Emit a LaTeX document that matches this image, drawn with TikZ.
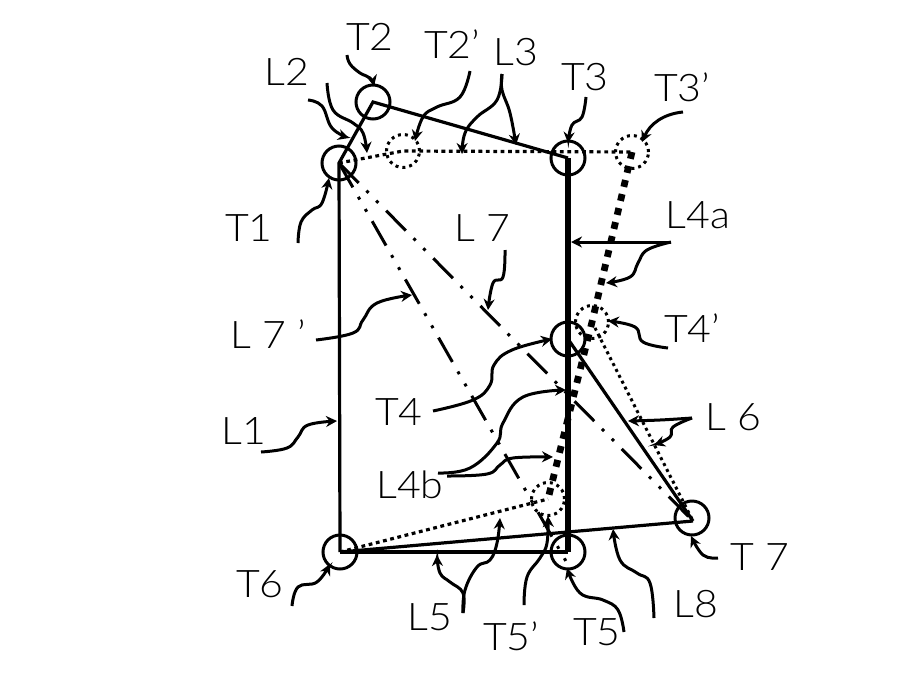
\documentclass[tikz,border=0pt]{standalone}
\usepackage{fontspec}
\setmainfont{Lato}[UprightFont=* Light,FakeStretch=1.08]
\usetikzlibrary{arrows.meta}
\tikzset{
  x=1pt,y=-1pt,
  ring/.style={circle,draw,line width=3pt,minimum size=34pt,inner sep=0pt},
  dring/.style={circle,draw,line width=3pt,minimum size=33pt,inner sep=0pt,dash pattern=on 3pt off 4pt},
  lab/.style={font=\fontsize{38}{40}\selectfont,inner sep=0pt},
  solidline/.style={line width=3.2pt,line join=miter},
  heavyline/.style={line width=6.8pt},
  dotline/.style={line width=3.2pt,dash pattern=on 3.8pt off 3.6pt},
  fineDot/.style={line width=3pt,dash pattern=on 3pt off 3.6pt},
  heavyDot/.style={line width=6.8pt,dash pattern=on 7pt off 7.4pt},
  chain/.style={line width=3pt,dash pattern=on 28pt off 11pt on 3pt off 11pt on 3pt off 11pt},
  lead/.style={line width=3pt,-{Stealth[length=11pt,width=11pt]}}
}
\begin{document}
\begin{tikzpicture}
\useasboundingbox (0,0) rectangle (921,673);
% terminals
\node[ring]  (T1) at (339,163) {};
\node[ring]  (T2) at (373,102) {};
\node[ring]  (T3) at (568,158) {};
\node[ring]  (T4) at (568,339) {};
\node[ring]  (T5) at (568,552) {};
\node[ring]  (T6) at (340,552) {};
\node[ring]  (T7) at (692,518) {};
\node[dring] (T2p) at (403,151) {};
\node[dring] (T3p) at (632,152) {};
\node[dring] (T4p) at (592,322) {};
\node[dring] (T5p) at (548,499) {};
\coordinate (T7e) at (693,521);
\coordinate (L7pe) at (567,563);
% links
\draw[solidline] (T6.center) -- (T1.center) -- (T2.center) -- (T3.center);
\draw[solidline] (T6.center) -- (T5.center);
\draw[solidline] (T6.center) -- (T7e);
\draw[solidline] (T4.center) -- (T7e);
\draw[heavyline] (T3.center) -- (T5.center);
\draw[dotline] (T1.center) -- (T2p.center) -- (T3p.center);
\draw[dotline] (T6.center) -- (T5p.center);
\draw[fineDot] (T4p.center) -- (T7e);
\draw[heavyDot] (T3p.center) -- (T4p.center) -- (T5p.center);
\draw[chain] (T1.center) -- (T7e);
\draw[chain] (T1.center) -- (L7pe);
% labels
\node[lab] (lT2)  at (370,37)  {T2};
\node[lab] (lT2p) at (452,44)  {T2'};
\node[lab] (lL3)  at (516,52)  {L3};
\node[lab] (lL2)  at (287,72)  {L2};
\node[lab] (lT3)  at (585,77)  {T3};
\node[lab] (lT3p) at (682,87)  {T3'};
\node[lab] (lT1)  at (249,228) {T1};
\node[lab] (lL4a) at (698,215) {L4a};
\node[lab] (lL7)  at (482,228) {L 7};
\node[lab] (lL7p) at (268,334) {L 7 ’};
\node[lab] (lT4p) at (692,328) {T4’};
\node[lab] (lT4)  at (399,412) {T4};
\node[lab] (lL6)  at (733,417) {L 6};
\node[lab] (lL1)  at (244,431) {L1};
\node[lab] (lL4b) at (410,485) {L4b};
\node[lab] (lT7)  at (760,557) {T 7};
\node[lab] (lT6)  at (260,584) {T6};
\node[lab] (lL8)  at (696,604) {L8};
\node[lab] (lL5)  at (430,617) {L5};
\node[lab] (lT5p) at (511,636) {T5'};
\node[lab] (lT5)  at (597,632) {T5};
% leader tails
\coordinate (tT2) at (347,55);
\coordinate (tL2a) at (308,100);
\coordinate (tL2b) at (327,83);
\coordinate (tT2p) at (470,71);
\coordinate (tL3) at (502,74);
\coordinate (tT3) at (586,97);
\coordinate (tT3p) at (683,112);
\coordinate (tL4a) at (671,242);
\coordinate (tT4p) at (668,348);
\coordinate (tL7) at (505,250);
\coordinate (tL7p) at (316,340);
\coordinate (tT1) at (298,243);
\coordinate (tT4) at (433,411);
\coordinate (tL1) at (261,452);
\coordinate (tL4b) at (438,473);
\coordinate (tL4c) at (447,476);
\coordinate (tL6) at (692,418);
\coordinate (tT7) at (718,558);
\coordinate (tL8) at (654,618);
\coordinate (tT5) at (624,632);
\coordinate (tT5p) at (524,605);
\coordinate (tL5) at (463,613);
\coordinate (tT6) at (292,606);
% leaders
\draw[lead] plot[smooth,tension=.7] coordinates {(tT2) (350,64) (360,73) (370,78) (374,86)};
\draw[lead] plot[smooth,tension=.7] coordinates {(tL2a) (322,106) (332,128) (349,138)};
\draw[lead] plot[smooth,tension=.7] coordinates {(tL2b) (333,110) (353,123) (363,133) (367,153)};
\draw[lead] plot[smooth,tension=.7] coordinates {(tT2p) (460,97) (437,107) (423,117) (415,141)};
\draw[lead] plot[smooth,tension=.7] coordinates {(tL3) (497,100) (477,117) (465,133) (462,154)};
\draw[lead] plot[smooth,tension=.7] coordinates {(tL3) (502,90) (510,113) (516,145)};
\draw[lead] plot[smooth,tension=.7] coordinates {(tT3) (582,117) (572,125) (568,143)};
\draw[lead] (tT3p) .. controls (663,114) and (650,124) .. (642,142);
\draw[lead] (tL4a) -- (571,242);
\draw[lead] plot[smooth,tension=.7] coordinates {(tL4a) (647,250) (638,263) (630,277) (606,283)};
\draw[lead] plot[smooth,tension=.7] coordinates {(tT4p) (643,342) (635,327) (608,321)};
\draw[lead] plot[smooth,tension=.7] coordinates {(tL7) (503,277) (493,283) (488,310)};
\draw[lead] plot[smooth,tension=.7] coordinates {(tL7p) (353,333) (363,320) (377,303) (412,295)};
\draw[lead] plot[smooth,tension=.7] coordinates {(tT1) (301,222) (312,210) (322,203) (329,178)};
\draw[lead] plot[smooth,tension=.7] coordinates {(tT4) (473,400) (490,385) (494,365) (512,350) (552,339)};
\draw[lead] plot[smooth,tension=.7] coordinates {(tL1) (287,448) (298,437) (308,425) (337,421)};
\draw[lead] plot[smooth,tension=.7] coordinates {(tL4b) (470,468) (497,443) (503,423) (523,397) (566,390)};
\draw[lead] plot[smooth,tension=.7] coordinates {(tL4c) (487,474) (500,465) (513,458) (553,457)};
\draw[lead] plot[smooth,tension=.7] coordinates {(tL6) (660,420) (628,421)};
\draw[lead] plot[smooth,tension=.7] coordinates {(tL6) (673,427) (670,437) (654,445)};
\draw[lead] plot[smooth,tension=.7] coordinates {(tT7) (703,555) (691,536)};
\draw[lead] plot[smooth,tension=.7] coordinates {(tL8) (650,583) (637,573) (620,560) (613,529)};
\draw[lead] plot[smooth,tension=.7] coordinates {(tT5) (618,610) (603,600) (580,593) (567,568)};
\draw[lead] plot[smooth,tension=.7] coordinates {(tT5p) (527,577) (540,558) (547,543) (548,516)};
\draw[lead] plot[smooth,tension=.7] coordinates {(tL5) (463,593) (450,582) (440,573) (437,555)};
\draw[lead] plot[smooth,tension=.7] coordinates {(tL5) (465,590) (477,567) (490,560) (497,543) (500,518)};
\draw[lead] plot[smooth,tension=.7] coordinates {(tT6) (298,587) (317,582) (330,564)};
\end{tikzpicture}
\end{document}
